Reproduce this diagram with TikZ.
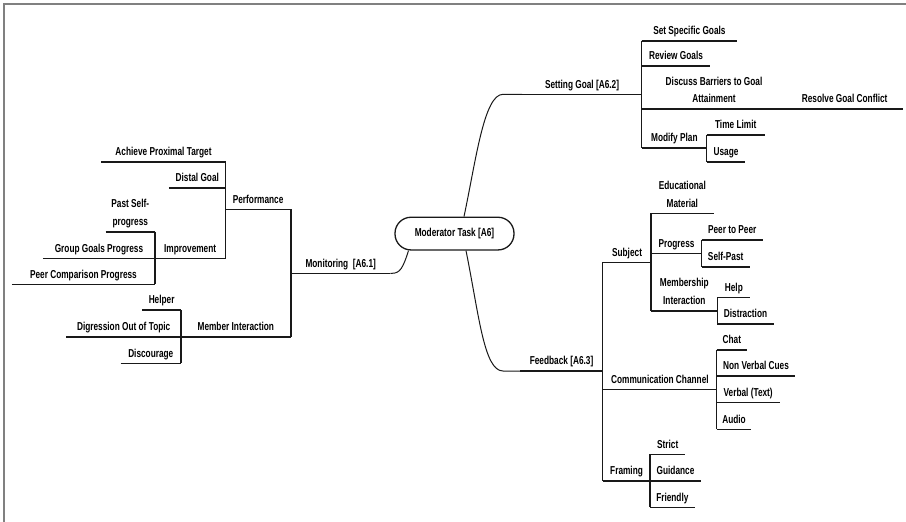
\documentclass[tikz,border=0pt]{standalone}
\usepackage{fontspec}
\usetikzlibrary{calc}
\newfontfamily\mmfont{Liberation Sans Bold}[FakeStretch=0.72]
\begin{document}
\begin{tikzpicture}[x=1pt,y=-1pt,
  lbl/.style={inner xsep=0pt, inner ysep=3.6pt,
    font=\mmfont\fontsize{11.5}{17.5}\selectfont, text=black},
  topic/.style={lbl, text height=8.3pt, text depth=2.3pt},
  topictwo/.style={lbl, align=center},
  lt/.style={anchor=south east},
  rt/.style={anchor=south west},
  underline/.style={draw=black!90, line width=1.6pt},
  bar/.style={draw=black!90, line width=1.1pt},
  branch/.style={draw=black!90, line width=1pt},
  rootnode/.style={draw=black!90, line width=1.3pt, rounded corners=16pt,
    minimum width=119pt, minimum height=32.7pt, inner sep=0pt,
    font=\mmfont\fontsize{11.5}{13}\selectfont}]
\useasboundingbox (0,0) rectangle (906,522);

% frame
\draw[gray, line width=2pt] (3.5,522) -- (3.5,4) -- (906,4);

% root
\node[rootnode] (root) at (454.5,233.6) {Moderator Task [A6]};

% ---- monitoring branch (left)
\node[topic, rt, minimum width=99pt] (monitor) at (291,273.3) {Monitoring~~[A6.1]};
\node[topic, lt, minimum width=65.3pt] (perf) at (291,209.3) {Performance};
\node[topic, lt, minimum width=110pt] (memint) at (291,336.7) {Member Interaction};
\node[topic, lt, minimum width=124pt] (achieve) at (225.7,161.7) {Achieve Proximal Target};
\node[topic, lt, minimum width=56.4pt] (distal) at (225.7,187.7) {Distal Goal};
\node[topic, lt, minimum width=70.7pt] (improve) at (225.7,258.3) {Improvement};
\node[topictwo, lt, minimum width=49pt] (pastself) at (155,231.7) {Past Self-\\progress};
\node[topic, lt, minimum width=111.7pt] (group) at (155,258.3) {Group Goals Progress};
\node[topic, lt, minimum width=142.7pt] (peercomp) at (155,284.3) {Peer Comparison Progress};
\node[topic, lt, minimum width=38.3pt] (helper) at (181,310) {Helper};
\node[topic, lt, minimum width=114.3pt] (digress) at (181,336.7) {Digression Out of Topic};
\node[topic, lt, minimum width=60pt] (discourage) at (181,363.3) {Discourage};

% ---- setting goal branch (upper right)
\node[topic, rt, minimum width=119.7pt] (setgoal) at (522,94.3) {Setting Goal [A6.2]};
\node[topic, rt, minimum width=95pt] (specific) at (641.7,40.7) {Set Specific Goals};
\node[topic, rt, minimum width=68.3pt] (review) at (641.7,65.7) {Review Goals};
\node[topictwo, rt, minimum width=144.3pt] (discuss) at (641.7,109) {Discuss Barriers to Goal\\Attainment\vphantom{g}};
\node[topic, rt, minimum width=117pt] (resolve) at (786,109) {Resolve Goal Conflict};
\node[topic, rt, minimum width=65pt] (modify) at (641.7,147.7) {Modify Plan};
\node[topic, rt, minimum width=57.6pt] (timelimit) at (706.7,135) {Time Limit};
\node[topic, rt, minimum width=38.3pt] (usage) at (706.7,161.7) {Usage};

% ---- feedback branch (lower right)
\node[topic, rt, minimum width=82.7pt] (feedback) at (520,371) {Feedback [A6.3]};
\node[topic, rt, minimum width=48.3pt] (subject) at (602.7,262.3) {Subject};
\node[topictwo, rt, minimum width=62.3pt] (edu) at (651,213.3) {Educational\\Material\vphantom{g}};
\node[topic, rt, minimum width=50.7pt] (progress) at (651,253.3) {Progress};
\node[topic, rt, minimum width=60.6pt] (peerpeer) at (701.7,240) {Peer to Peer};
\node[topic, rt, minimum width=47.6pt] (selfpast) at (701.7,266.7) {Self-Past};
\node[topictwo, rt, minimum width=66.3pt] (memb) at (651,310.7) {Membership\\Interaction\vphantom{g}};
\node[topic, rt, minimum width=32.7pt] (help) at (717.3,297.3) {Help};
\node[topic, rt, minimum width=56pt] (distraction) at (717.3,324) {Distraction};
\node[topic, rt, minimum width=114pt] (comm) at (602.7,389.3) {Communication Channel};
\node[topic, rt, minimum width=30pt] (chat) at (716.7,350) {Chat};
\node[topic, rt, minimum width=78.3pt] (nonverbal) at (716.7,375.7) {Non Verbal Cues};
\node[topic, rt, minimum width=62.6pt] (verbal) at (716.7,402.3) {Verbal (Text)};
\node[topic, rt, minimum width=34.3pt] (audio) at (716.7,429.3) {Audio};
\node[topic, rt, minimum width=47.3pt] (framing) at (602.7,480.7) {Framing};
\node[topic, rt, minimum width=35pt] (strict) at (650,454.3) {Strict};
\node[topic, rt, minimum width=50.7pt] (guidance) at (650,480.7) {Guidance};
\node[topic, rt, minimum width=44.3pt] (friendly) at (650,507.3) {Friendly};

% underlines of every topic
\foreach \n in {monitor,perf,memint,achieve,distal,improve,pastself,group,peercomp,
  helper,digress,discourage,setgoal,specific,review,discuss,resolve,modify,timelimit,
  usage,feedback,subject,edu,progress,peerpeer,selfpast,memb,help,distraction,comm,
  chat,nonverbal,verbal,audio,framing,strict,guidance,friendly}
  \draw[underline] (\n.south west) -- (\n.south east);

% vertical bars joining siblings
\draw[bar] (perf.south east) -- (memint.south east);
\draw[bar] (achieve.south east) -- (improve.south east);
\draw[bar] (pastself.south east) -- (peercomp.south east);
\draw[bar] (helper.south east) -- (discourage.south east);
\draw[bar] (specific.south west) -- (modify.south west);
\draw[bar] (timelimit.south west) -- (usage.south west);
\draw[bar] (subject.south west) -- (framing.south west);
\draw[bar] (edu.south west) -- (memb.south west);
\draw[bar] (peerpeer.south west) -- (selfpast.south west);
\draw[bar] (help.south west) -- (distraction.south west);
\draw[bar] (chat.south west) -- (audio.south west);
\draw[bar] (strict.south west) -- (friendly.south west);

% curved branches from the root
\draw[branch] ($(root.north)+(9.5,0)$) .. controls (476,160) and (484,94.3) .. (503,94.3) -- (setgoal.south west);
\draw[branch] ($(root.south)+(11.5,0)$) .. controls (479,315) and (484,371) .. (503,371) -- (feedback.south west);
\draw[branch] ($(root.south)+(-46,0)$) .. controls (403,268) and (400,273.3) .. (392,273.3) -- (monitor.south east);
\end{tikzpicture}
\end{document}
